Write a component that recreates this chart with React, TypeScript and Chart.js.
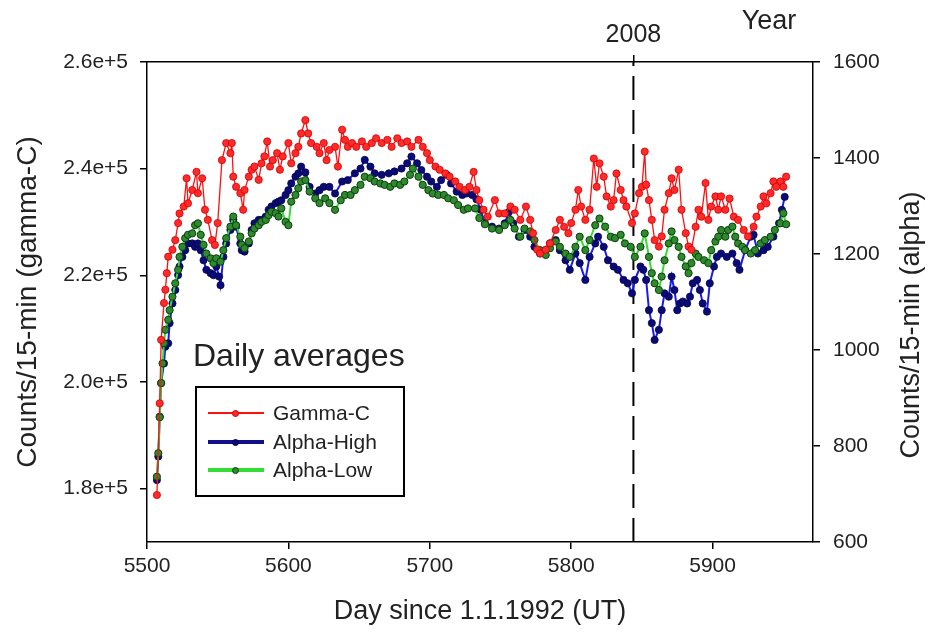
import React, { useEffect, useRef } from 'react';
import { Chart, registerables } from 'chart.js';

Chart.register(...registerables);

const FONT = '"Liberation Sans", Arial, Helvetica, sans-serif';

// ---- axis ticks / labels ----
const xTicks = [5500, 5600, 5700, 5800, 5900];
const leftTicks = [180000, 200000, 220000, 240000, 260000];
const rightTicks = [600, 800, 1000, 1200, 1400, 1600];
const yearDays = [5844];
const yearLabels = ['2008'];

const xTitle = 'Day since 1.1.1992 (UT)';
const leftTitle = 'Counts/15-min (gamma-C)';
const rightTitle = 'Counts/15-min (alpha)';
const topTitle = 'Year';
const legendTitle = 'Daily averages';
const seriesNames = ['Gamma-C', 'Alpha-High', 'Alpha-Low'];

// ---- Gamma-C (left axis) ----
const gammaDays = [5507,5509,5510,5512,5513,5514,5515,5518,5520,5522,5523,5526,5528,5529,5532,5535,5536,5539,5541,5543,5546,5548,5550,5553,5556,5559,5560,5561,5563,5566,5568,5569,5572,5574,5576,5579,5581,5583,5585,5587,5589,5592,5594,5596,5600,5602,5605,5607,5609,5612,5614,5616,5620,5622,5625,5627,5629,5633,5635,5638,5640,5642,5645,5648,5652,5655,5659,5662,5666,5670,5673,5677,5680,5684,5687,5692,5695,5698,5700,5704,5707,5711,5714,5718,5721,5725,5728,5731,5733,5735,5738,5741,5746,5749,5753,5757,5760,5764,5768,5771,5773,5776,5778,5782,5785,5789,5792,5795,5798,5800,5803,5805,5807,5810,5813,5816,5818,5820,5823,5825,5828,5830,5832,5835,5837,5839,5843,5845,5848,5850,5852,5853,5855,5857,5859,5862,5864,5866,5869,5871,5873,5876,5878,5881,5883,5885,5888,5890,5892,5895,5897,5899,5902,5904,5906,5909,5912,5915,5918,5922,5925,5929,5931,5934,5936,5938,5941,5943,5945,5948,5950,5952];
const gammaValues = [178800,196000,207900,214800,217300,220400,223500,224800,226600,229800,231600,232900,238200,233500,236000,239400,235400,238200,232300,230400,226600,225700,229800,241600,244800,242900,244800,238500,236600,235400,232300,236000,238500,239800,240400,237900,241000,242300,245100,240400,241600,242900,239800,242300,244800,241000,242900,244100,246600,249100,246600,244800,244100,242900,244800,241600,243500,244100,240400,247300,245400,244100,244800,244100,245100,244100,244800,245700,244800,245400,244100,245700,244800,245100,244100,245400,244100,242900,241600,240400,239800,239100,238500,237600,236600,236000,236600,239400,236000,234100,232300,231000,234100,231600,231600,232900,232300,230400,232900,230400,227900,224800,224100,224800,226000,228500,230400,229100,227900,229800,232300,236000,232900,230400,232300,241900,236600,241000,238500,234800,232900,234100,239100,236000,234100,232900,229800,231600,235400,236600,243200,237000,234100,230400,226600,225400,227300,232300,235400,238200,236000,239800,232300,227900,225400,224800,229100,232300,231000,237300,230400,232900,234800,232300,234800,232300,234400,231000,230400,228500,227300,229100,231000,232900,234800,233500,235400,237600,236600,237600,236600,238500];

// ---- Alpha-High (right axis) ----
const highDays = [5507,5508,5509,5510,5512,5513,5515,5516,5518,5520,5522,5523,5525,5527,5529,5532,5534,5536,5538,5540,5542,5545,5547,5549,5551,5552,5554,5556,5559,5561,5563,5566,5567,5569,5572,5574,5576,5579,5581,5584,5586,5588,5591,5593,5595,5598,5600,5602,5605,5607,5609,5612,5615,5619,5622,5625,5629,5633,5638,5642,5647,5651,5654,5658,5661,5666,5671,5675,5680,5684,5687,5691,5694,5698,5701,5705,5708,5712,5715,5719,5723,5726,5730,5733,5736,5739,5744,5749,5753,5756,5759,5763,5767,5771,5774,5778,5782,5785,5789,5792,5796,5799,5803,5806,5810,5813,5817,5819,5823,5826,5830,5833,5837,5840,5843,5845,5849,5851,5853,5855,5857,5859,5862,5864,5866,5869,5871,5873,5875,5877,5879,5882,5884,5886,5889,5891,5893,5896,5898,5901,5903,5906,5910,5914,5917,5919,5923,5927,5929,5932,5936,5939,5943,5947,5949,5951];
const highValues = [729,778,861,931,972,1007,1014,1056,1097,1125,1156,1174,1194,1208,1222,1222,1215,1222,1208,1187,1167,1160,1156,1174,1153,1135,1194,1222,1250,1271,1257,1222,1208,1205,1222,1250,1264,1271,1271,1278,1292,1299,1306,1309,1312,1323,1333,1347,1361,1368,1382,1370,1340,1326,1333,1340,1340,1326,1351,1354,1368,1378,1396,1382,1368,1365,1368,1372,1378,1389,1403,1389,1375,1361,1351,1340,1354,1365,1347,1330,1323,1326,1323,1314,1292,1264,1257,1253,1264,1288,1264,1236,1250,1236,1215,1201,1208,1222,1229,1208,1187,1167,1201,1181,1146,1194,1222,1236,1215,1187,1174,1167,1146,1139,1118,1146,1174,1167,1146,1083,1056,1021,1042,1083,1118,1111,1153,1125,1083,1097,1101,1097,1111,1139,1146,1125,1097,1080,1139,1174,1194,1201,1194,1201,1181,1167,1208,1236,1240,1201,1208,1215,1236,1264,1292,1319];

// ---- Alpha-Low (right axis) ----
const lowDays = [5507,5508,5509,5510,5511,5512,5513,5515,5516,5518,5520,5522,5523,5525,5527,5529,5532,5534,5536,5538,5540,5542,5545,5547,5549,5552,5554,5556,5559,5561,5563,5566,5567,5569,5572,5574,5576,5579,5581,5584,5586,5588,5591,5593,5595,5598,5600,5602,5605,5607,5609,5612,5615,5619,5622,5626,5629,5633,5637,5640,5644,5647,5651,5654,5658,5661,5665,5668,5672,5675,5679,5682,5686,5688,5692,5695,5699,5702,5706,5710,5713,5717,5720,5724,5727,5732,5735,5739,5744,5749,5753,5757,5760,5764,5767,5771,5774,5778,5782,5785,5789,5792,5796,5799,5803,5806,5810,5813,5817,5820,5824,5828,5831,5835,5838,5842,5845,5849,5852,5855,5857,5859,5862,5864,5866,5869,5871,5873,5876,5878,5881,5883,5885,5888,5890,5894,5897,5899,5902,5904,5906,5909,5911,5914,5916,5918,5921,5923,5927,5930,5934,5937,5941,5944,5948,5950,5952];
const lowValues = [736,785,860,931,972,1014,1042,1063,1083,1111,1139,1167,1194,1215,1233,1240,1243,1260,1264,1240,1219,1201,1191,1181,1191,1184,1208,1233,1257,1278,1260,1236,1219,1212,1226,1243,1253,1260,1267,1271,1281,1288,1285,1278,1295,1267,1260,1309,1323,1337,1351,1354,1330,1316,1306,1316,1306,1292,1312,1323,1323,1333,1344,1361,1358,1351,1347,1344,1340,1347,1344,1351,1365,1378,1361,1344,1333,1326,1323,1323,1316,1312,1302,1292,1295,1295,1275,1262,1253,1250,1260,1271,1253,1236,1253,1247,1229,1208,1198,1212,1226,1215,1201,1194,1215,1236,1208,1229,1260,1274,1257,1236,1233,1240,1222,1215,1194,1215,1243,1194,1160,1139,1125,1153,1187,1222,1247,1229,1215,1194,1174,1160,1181,1201,1194,1187,1181,1208,1226,1236,1250,1236,1250,1257,1236,1222,1215,1208,1201,1208,1222,1229,1236,1250,1264,1285,1262];

const toPoints = (xs: number[], ys: number[]) => xs.map((x, i) => ({ x, y: ys[i] }));

const COLORS = {
  gammaLine: '#ff1010',
  gammaPoint: '#ff2a2a',
  gammaPointBorder: '#d00000',
  highLine: '#1a1aee',
  highPoint: '#0a0a78',
  highPointBorder: '#05054a',
  lowLine: '#33dd33',
  lowPoint: '#2f8a2f',
  lowPointBorder: '#0c3f0c',
  text: '#222222',
};

const extraText = {
  id: 'extraText',
  afterDraw(chart: any) {
    const { ctx, chartArea } = chart;
    ctx.save();
    ctx.fillStyle = COLORS.text;
    ctx.font = `27px ${FONT}`;
    ctx.textAlign = 'center';
    ctx.textBaseline = 'middle';
    ctx.fillText(topTitle, chartArea.right - 44, 22);
    ctx.translate(chartArea.right + 99, 325);
    ctx.rotate(-Math.PI / 2);
    ctx.fillText(rightTitle, 0, 0);
    ctx.restore();
  },
};

const axisCommon = {
  border: { display: true, color: '#000', width: 1.5 },
  grid: { drawOnChartArea: false, drawTicks: true, tickLength: 7, color: '#000', lineWidth: 1.5 },
};

export default function App() {
  const ref = useRef<HTMLCanvasElement | null>(null);

  useEffect(() => {
    if (!ref.current) return;
    const chart = new Chart(ref.current, {
      type: 'line',
      data: {
        datasets: [
          {
            label: seriesNames[0],
            data: toPoints(gammaDays, gammaValues),
            yAxisID: 'y',
            borderColor: COLORS.gammaLine,
            borderWidth: 1.3,
            pointRadius: 3.6,
            pointBackgroundColor: COLORS.gammaPoint,
            pointBorderColor: COLORS.gammaPointBorder,
            pointBorderWidth: 0.8,
            tension: 0,
            order: 0,
          },
          {
            label: seriesNames[1],
            data: toPoints(highDays, highValues),
            yAxisID: 'y1',
            borderColor: COLORS.highLine,
            borderWidth: 2,
            pointRadius: 3.6,
            pointBackgroundColor: COLORS.highPoint,
            pointBorderColor: COLORS.highPointBorder,
            pointBorderWidth: 0.8,
            tension: 0,
            order: 2,
          },
          {
            label: seriesNames[2],
            data: toPoints(lowDays, lowValues),
            yAxisID: 'y1',
            borderColor: COLORS.lowLine,
            borderWidth: 2,
            pointRadius: 3.6,
            pointBackgroundColor: COLORS.lowPoint,
            pointBorderColor: COLORS.lowPointBorder,
            pointBorderWidth: 1,
            tension: 0,
            order: 1,
          },
          {
            label: 'year-marker',
            data: [
              { x: yearDays[0], y: rightTicks[0] },
              { x: yearDays[0], y: rightTicks[rightTicks.length - 1] },
            ],
            yAxisID: 'y1',
            borderColor: '#000',
            borderWidth: 2,
            borderDash: [24, 10],
            pointRadius: 0,
            order: 3,
          },
        ],
      },
      options: {
        animation: false,
        responsive: false,
        devicePixelRatio: 1,
        layout: { padding: 0 },
        plugins: { legend: { display: false }, tooltip: { enabled: false } },
        scales: {
          x: {
            type: 'linear',
            position: 'bottom',
            min: 5500,
            max: 5971,
            ...axisCommon,
            afterBuildTicks: (s: any) => { s.ticks = xTicks.map((v) => ({ value: v })); },
            afterFit: (s: any) => { s.height = 95; },
            ticks: {
              color: COLORS.text,
              font: { family: FONT, size: 21 },
              padding: 5,
              maxRotation: 0,
              callback: (v: any) => String(v),
            },
            title: {
              display: true,
              text: xTitle,
              color: COLORS.text,
              font: { family: FONT, size: 27 },
              padding: { top: 0, bottom: 9 },
            },
          },
          x2: {
            type: 'linear',
            position: 'top',
            min: 5500,
            max: 5971,
            ...axisCommon,
            afterBuildTicks: (s: any) => { s.ticks = yearDays.map((v) => ({ value: v })); },
            afterFit: (s: any) => { s.height = 62; },
            ticks: {
              color: COLORS.text,
              font: { family: FONT, size: 25 },
              padding: 5,
              maxRotation: 0,
              callback: (v: any) => {
                const i = yearDays.indexOf(Number(v));
                return i >= 0 ? yearLabels[i] : '';
              },
            },
          },
          y: {
            type: 'linear',
            position: 'left',
            min: 170000,
            max: 260000,
            ...axisCommon,
            afterBuildTicks: (s: any) => { s.ticks = leftTicks.map((v) => ({ value: v })); },
            afterFit: (s: any) => { s.width = 147; },
            ticks: {
              color: COLORS.text,
              font: { family: FONT, size: 21 },
              padding: 12,
              callback: (v: any) => (Number(v) / 1e5).toFixed(1) + 'e+5',
            },
            title: {
              display: true,
              text: leftTitle,
              color: COLORS.text,
              font: { family: FONT, size: 28 },
              padding: { top: 11, bottom: 0 },
            },
          },
          y1: {
            type: 'linear',
            position: 'right',
            min: 600,
            max: 1600,
            ...axisCommon,
            afterBuildTicks: (s: any) => { s.ticks = rightTicks.map((v) => ({ value: v })); },
            afterFit: (s: any) => { s.width = 121; },
            ticks: {
              color: COLORS.text,
              font: { family: FONT, size: 21 },
              padding: 13,
              callback: (v: any) => String(v),
            },
          },
        },
      },
      plugins: [extraText],
    } as any);
    return () => chart.destroy();
  }, []);

  const row = (top: number, name: string, line: string, lw: number, dot: string, dotBorder: string, r: number) => (
    <div key={name} style={{ position: 'absolute', left: 0, top, width: '100%', height: 28 }}>
      <div style={{ position: 'absolute', left: 11, top: 14 - lw / 2, width: 56, height: lw, background: line }} />
      <div
        style={{
          position: 'absolute',
          left: 38 - r,
          top: 14 - r,
          width: r * 2,
          height: r * 2,
          borderRadius: '50%',
          background: dot,
          boxSizing: 'border-box',
          border: `1px solid ${dotBorder}`,
        }}
      />
      <div style={{ position: 'absolute', left: 76, top: 0, lineHeight: '28px', fontSize: 21, fontFamily: FONT, color: COLORS.text, whiteSpace: 'nowrap' }}>
        {name}
      </div>
    </div>
  );

  return (
    <div style={{ position: 'absolute', left: 0, top: 0, width: 934, height: 637, background: '#fff' }}>
      <canvas ref={ref} width={934} height={637} style={{ display: 'block', width: 934, height: 637 }} />
      <div
        style={{
          position: 'absolute',
          left: 193,
          top: 337,
          fontFamily: FONT,
          fontSize: 32,
          lineHeight: '36px',
          color: COLORS.text,
          whiteSpace: 'nowrap',
        }}
      >
        {legendTitle}
      </div>
      <div
        style={{
          position: 'absolute',
          left: 195,
          top: 386,
          width: 210,
          height: 111,
          boxSizing: 'border-box',
          border: '2px solid #000',
          background: '#fff',
        }}
      >
        {row(11, seriesNames[0], COLORS.gammaLine, 1.5, COLORS.gammaPoint, COLORS.gammaPointBorder, 3.5)}
        {row(40, seriesNames[1], '#10108a', 4, COLORS.highPoint, COLORS.highPointBorder, 3.5)}
        {row(68, seriesNames[2], COLORS.lowLine, 4, COLORS.lowPoint, COLORS.lowPointBorder, 3.5)}
      </div>
    </div>
  );
}
